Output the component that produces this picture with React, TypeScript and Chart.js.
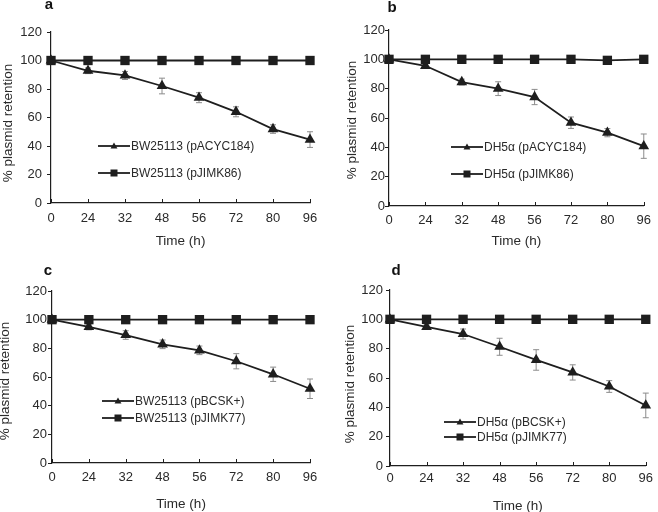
import React, { useEffect, useRef } from 'react';
import { Chart, registerables } from 'chart.js';
Chart.register(...registerables);

// ---------- data ----------
const timeLabels = ['0', '24', '32', '48', '56', '72', '80', '96'];
const yMin = 0;
const yMax = 120;
const yStep = 20;
const yAxisTitle = '% plasmid retention';
const xAxisTitle = 'Time (h)';
const panelLetters = ['a', 'b', 'c', 'd'];

const aControl = [100, 92.8, 89.5, 82.1, 73.9, 64, 51.9, 44.5];
const aControlErr = [0, 2, 2.8, 5.5, 3.5, 3.5, 3, 5.5];
const aConstruct = [100, 100, 100, 100, 100, 100, 100, 100];
const aLegend = ['BW25113 (pACYC184)', 'BW25113 (pJIMK86)'];

const bControl = [100, 95.6, 84.5, 80, 74.3, 56.8, 50, 40.8];
const bControlErr = [0, 1.5, 2, 4.7, 5.2, 3.9, 2.8, 8.3];
const bConstruct = [100, 100, 100, 100, 100, 100, 99.3, 100];
const bLegend = ['DH5α (pACYC184)', 'DH5α (pJIMK86)'];

const cControl = [100, 94.9, 89.3, 82.8, 78.6, 71, 61.9, 51.8];
const cControlErr = [0, 2, 3, 3, 3, 5.3, 5, 6.8];
const cConstruct = [100, 100, 100, 100, 100, 100, 100, 100];
const cLegend = ['BW25113 (pBCSK+)', 'BW25113 (pJIMK77)'];

const dControl = [100, 94.8, 90, 81.3, 72.3, 63.8, 54.2, 41.3];
const dControlErr = [0, 1.5, 3.4, 5.8, 7, 5.2, 4, 8.4];
const dConstruct = [100, 100, 100, 100, 100, 100, 100, 100];
const dLegend = ['DH5α (pBCSK+)', 'DH5α (pJIMK77)'];

// ---------- layout / style ----------
const FONT = "'Liberation Sans', Arial, sans-serif";
const INK = '#1e1e1e';
const TEXT = '#2a2a2a';
const ERR = '#8c8c8c';

const panels = [
  { control: aControl, err: aControlErr, construct: aConstruct, legend: aLegend, letter: panelLetters[0],
    box: { left: 0, top: 0, w: 329, h: 256 }, area: { l: 51, r: 310, t: 32, b: 203 },
    yTickPad: 5, yTitle: { x: 8, y: 123 }, xTitlePad: 7, xTickPad: 8, leg: { x: 98, y: [146, 173] }, letterPos: { x: 49, y: 9 } },
  { control: bControl, err: bControlErr, construct: bConstruct, legend: bLegend, letter: panelLetters[1],
    box: { left: 329, top: 0, w: 329, h: 256 }, area: { l: 60, r: 322, t: 30, b: 206 },
    yTickPad: 0, yTitle: { x: 23, y: 120 }, xTitlePad: 7, xTickPad: 7, leg: { x: 122, y: [147, 174] }, letterPos: { x: 63, y: 12 } },
  { control: cControl, err: cControlErr, construct: cConstruct, legend: cLegend, letter: panelLetters[2],
    box: { left: 0, top: 256, w: 329, h: 256 }, area: { l: 52, r: 310, t: 35, b: 207 },
    yTickPad: 1, yTitle: { x: 5, y: 125 }, xTitlePad: 0, xTickPad: 7, leg: { x: 102, y: [145, 162] }, letterPos: { x: 48, y: 19 } },
  { control: dControl, err: dControlErr, construct: dConstruct, legend: dLegend, letter: panelLetters[3],
    box: { left: 329, top: 256, w: 329, h: 256 }, area: { l: 61, r: 322, t: 34, b: 210 },
    yTickPad: 3, yTitle: { x: 21, y: 128 }, xTitlePad: -2, xTickPad: 5, leg: { x: 115, y: [166, 181] }, letterPos: { x: 67, y: 19 } },
];

function drawTriangle(ctx: CanvasRenderingContext2D, x: number, y: number, r: number) {
  ctx.beginPath();
  ctx.moveTo(x, y - r);
  ctx.lineTo(x + 0.866 * r, y + 0.5 * r);
  ctx.lineTo(x - 0.866 * r, y + 0.5 * r);
  ctx.closePath();
  ctx.fill();
}

function Panel({ p }: { p: any }) {
  const ref = useRef<HTMLCanvasElement | null>(null);
  useEffect(() => {
    if (!ref.current) return;
    const extras = {
      id: 'extras',
      beforeDatasetsDraw(chart: any) {
        const { ctx, scales } = chart;
        const x = scales.x, y = scales.y;
        ctx.save();
        ctx.strokeStyle = ERR;
        ctx.lineWidth = 1;
        p.control.forEach((v: number, i: number) => {
          const e = p.err[i];
          if (!e) return;
          const px = x.getPixelForValue(i);
          const y1 = y.getPixelForValue(v + e);
          const y2 = y.getPixelForValue(v - e);
          ctx.beginPath();
          ctx.moveTo(px, y1); ctx.lineTo(px, y2);
          ctx.moveTo(px - 3, y1); ctx.lineTo(px + 3, y1);
          ctx.moveTo(px - 3, y2); ctx.lineTo(px + 3, y2);
          ctx.stroke();
        });
        ctx.restore();
      },
      afterDraw(chart: any) {
        const { ctx, scales, chartArea } = chart;
        const x = scales.x;
        ctx.save();
        // inner x tick marks
        ctx.strokeStyle = INK;
        ctx.lineWidth = 1;
        for (let i = 0; i < timeLabels.length; i++) {
          const px = Math.round(x.getPixelForTick(i)) + 0.5;
          ctx.beginPath();
          ctx.moveTo(px, chartArea.bottom);
          ctx.lineTo(px, chartArea.bottom - 4);
          ctx.stroke();
        }
        // y axis title
        ctx.save();
        ctx.translate(p.yTitle.x, p.yTitle.y);
        ctx.rotate(-Math.PI / 2);
        ctx.font = `13.5px ${FONT}`;
        ctx.fillStyle = TEXT;
        ctx.textAlign = 'center';
        ctx.textBaseline = 'middle';
        ctx.fillText(yAxisTitle, 0, 0);
        ctx.restore();
        // legend
        const lx = p.leg.x;
        const lineLen = 32;
        ctx.font = `12px ${FONT}`;
        ctx.textBaseline = 'middle';
        ctx.textAlign = 'left';
        p.legend.forEach((label: string, k: number) => {
          const ly = p.leg.y[k];
          ctx.strokeStyle = INK;
          ctx.fillStyle = INK;
          ctx.lineWidth = 1.8;
          ctx.beginPath();
          ctx.moveTo(lx, ly); ctx.lineTo(lx + lineLen, ly);
          ctx.stroke();
          const cx = lx + lineLen / 2;
          if (k === 0) drawTriangle(ctx, cx, ly + 0.5, 4);
          else ctx.fillRect(cx - 3.5, ly - 3.5, 7, 7);
          ctx.fillStyle = TEXT;
          ctx.fillText(label, lx + lineLen + 1, ly + 0.5);
        });
        // panel letter
        ctx.font = `bold 15px ${FONT}`;
        ctx.fillStyle = '#111';
        ctx.textBaseline = 'alphabetic';
        ctx.textAlign = 'center';
        ctx.fillText(p.letter, p.letterPos.x, p.letterPos.y);
        ctx.restore();
      },
    };

    const chart = new Chart(ref.current, {
      type: 'line',
      data: {
        labels: timeLabels,
        datasets: [
          {
            label: p.legend[1],
            data: p.construct,
            borderColor: INK,
            backgroundColor: INK,
            borderWidth: 1.8,
            pointStyle: 'rect',
            pointRadius: 6.6,
            pointHoverRadius: 6.6,
            pointBorderWidth: 0,
            pointBackgroundColor: INK,
            tension: 0,
            clip: false,
            order: 0,
          },
          {
            label: p.legend[0],
            data: p.control,
            borderColor: INK,
            backgroundColor: INK,
            borderWidth: 1.8,
            pointStyle: 'triangle',
            pointRadius: 6.2,
            pointHoverRadius: 6.2,
            pointBorderWidth: 0,
            pointBackgroundColor: INK,
            tension: 0,
            clip: false,
            order: 1,
          },
        ],
      },
      options: {
        animation: false,
        responsive: false,
        maintainAspectRatio: false,
        events: [],
        layout: {
          padding: { left: 0, top: p.area.t, right: p.box.w - p.area.r, bottom: 0 },
        },
        plugins: {
          legend: { display: false },
          tooltip: { enabled: false },
        },
        scales: {
          x: {
            type: 'category',
            offset: false,
            grid: { display: true, drawOnChartArea: false, drawTicks: false },
            border: { display: true, color: INK, width: 1.2 },
            ticks: { color: TEXT, font: { family: FONT, size: 13 }, padding: p.xTickPad, maxRotation: 0, autoSkip: false },
            title: { display: true, text: xAxisTitle, color: TEXT, font: { family: FONT, size: 13.5 }, padding: { top: 0, bottom: p.xTitlePad } },
            afterFit: (s: any) => { s.height = p.box.h - p.area.b; },
          },
          y: {
            min: yMin,
            max: yMax,
            ticks: { stepSize: yStep, color: TEXT, font: { family: FONT, size: 13 }, padding: p.yTickPad },
            grid: { display: true, drawOnChartArea: false, drawTicks: true, tickLength: 4, color: INK },
            border: { display: true, color: INK, width: 1.2 },
            title: { display: false },
            afterFit: (s: any) => { s.width = p.area.l; },
          },
        },
      },
      plugins: [extras],
    } as any);
    return () => chart.destroy();
  }, [p]);

  return (
    <canvas
      ref={ref}
      width={p.box.w}
      height={p.box.h}
      style={{ position: 'absolute', left: p.box.left, top: p.box.top, width: p.box.w, height: p.box.h, display: 'block' }}
    />
  );
}

export default function App() {
  return (
    <div style={{ position: 'absolute', left: 0, top: 0, width: 658, height: 512, background: '#fff', overflow: 'hidden' }}>
      {panels.map((p, i) => (
        <Panel key={i} p={p} />
      ))}
    </div>
  );
}
